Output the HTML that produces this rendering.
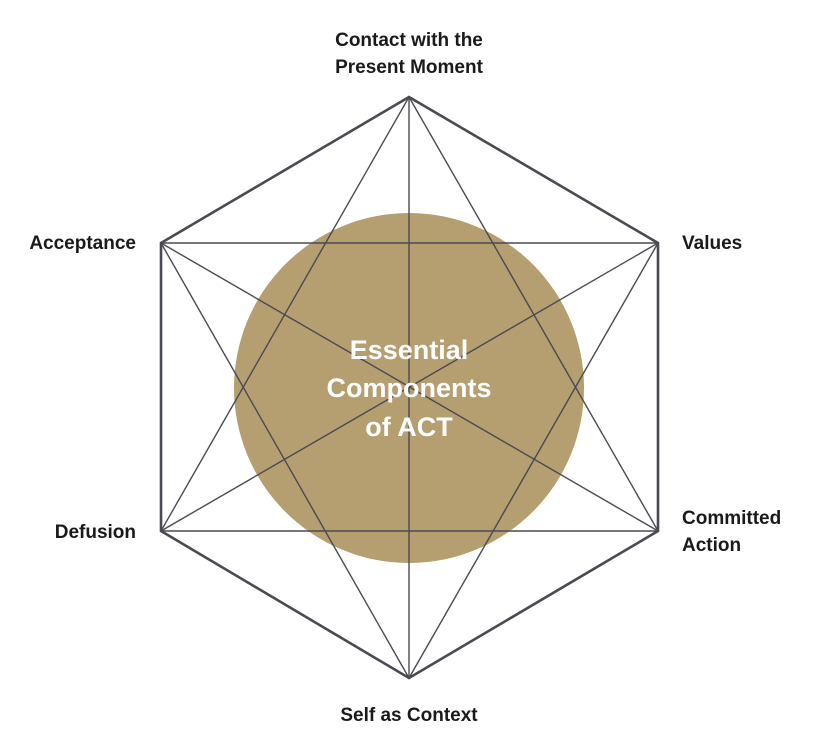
<!DOCTYPE html>
<html><head><style>
html,body{margin:0;padding:0;background:#fff;width:824px;height:742px;overflow:hidden}
svg{display:block}
text{font-family:"Liberation Sans",sans-serif;font-weight:bold}
</style></head><body>
<svg width="824" height="742" viewBox="0 0 824 742">
<circle cx="409" cy="388" r="175" fill="#b59e6f"/>
<g stroke="#4a4a52" stroke-width="1.4" fill="none">
<line x1="409" y1="97" x2="409" y2="678"/>
<line x1="409" y1="97" x2="161" y2="531"/>
<line x1="409" y1="97" x2="658" y2="531"/>
<line x1="409" y1="678" x2="161" y2="243"/>
<line x1="409" y1="678" x2="658" y2="243"/>
<line x1="161" y1="243" x2="658" y2="243"/>
<line x1="161" y1="531" x2="658" y2="531"/>
<line x1="161" y1="243" x2="658" y2="531"/>
<line x1="161" y1="531" x2="658" y2="243"/>
</g>
<polygon points="409,97 658,243 658,531 409,678 161,531 161,243" fill="none" stroke="#4a4a52" stroke-width="2.6"/>
<g fill="#fff" font-size="27" text-anchor="middle">
<text x="409" y="359">Essential</text>
<text x="409" y="397">Components</text>
<text x="409" y="436">of ACT</text>
</g>
<g fill="#1a1a1a" font-size="19">
<text x="409" y="46" text-anchor="middle">Contact with the</text>
<text x="409" y="73" text-anchor="middle">Present Moment</text>
<text x="136" y="249" text-anchor="end">Acceptance</text>
<text x="682" y="249">Values</text>
<text x="136" y="538" text-anchor="end">Defusion</text>
<text x="682" y="524">Committed</text>
<text x="682" y="551">Action</text>
<text x="409" y="721" text-anchor="middle">Self as Context</text>
</g>
</svg>
</body></html>
